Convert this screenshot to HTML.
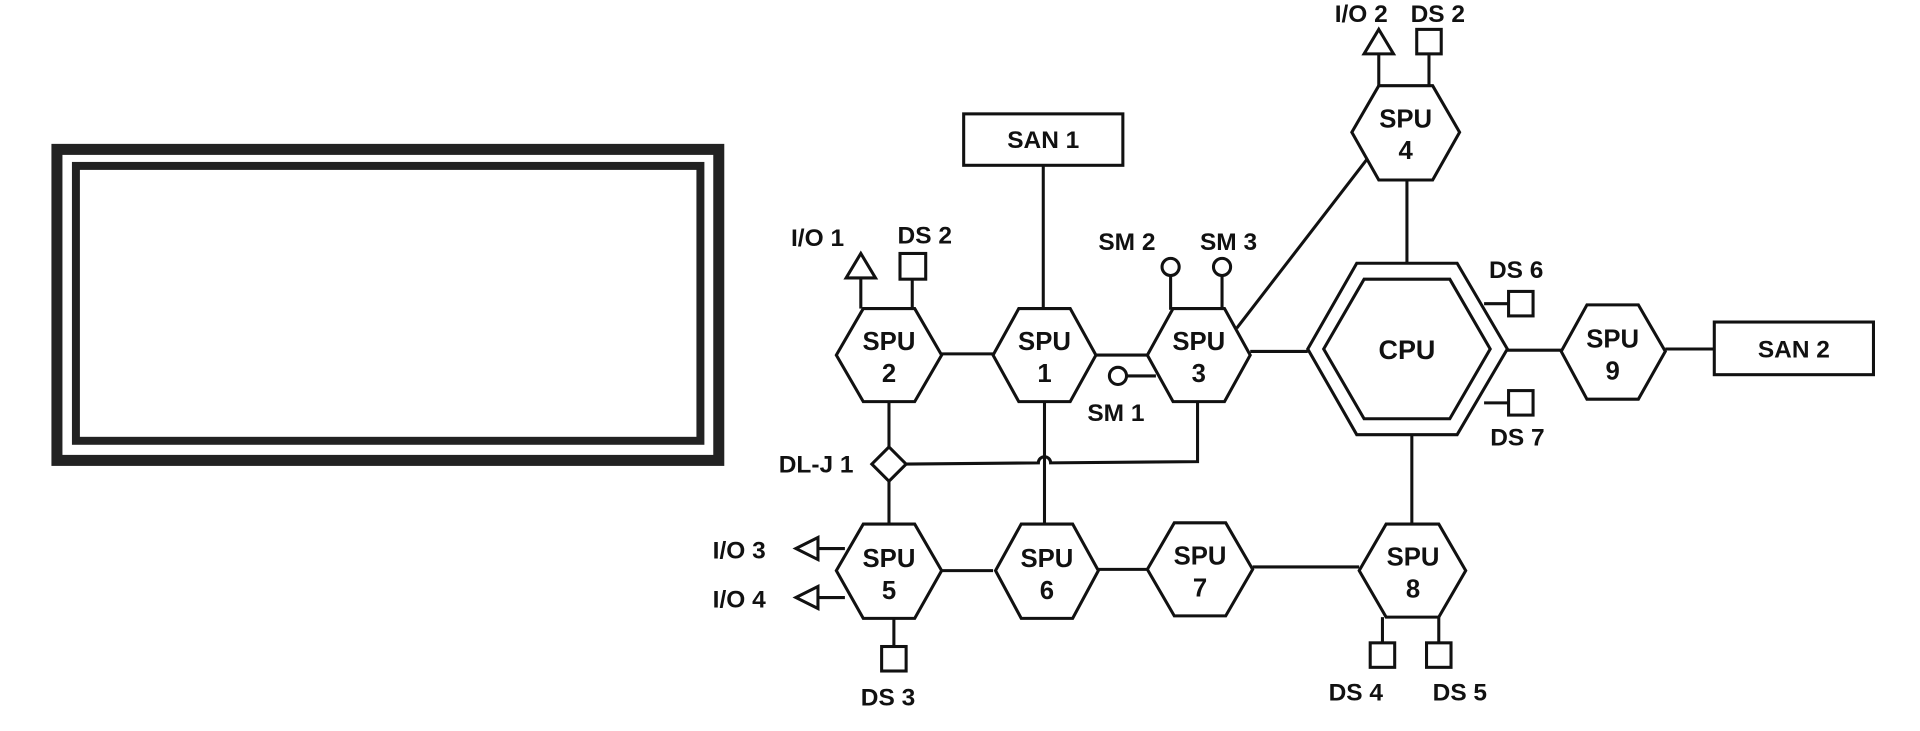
<!DOCTYPE html>
<html><head><meta charset="utf-8"><style>
html,body{margin:0;padding:0;background:#fff;}
svg{display:block;}
text{font-family:"Liberation Sans",sans-serif;font-weight:bold;fill:#111;font-size:20px;}
.n{text-anchor:middle;font-size:21px;}
</style></head><body>
<svg width="1920" height="731" viewBox="0 0 1568 597" preserveAspectRatio="none" xmlns="http://www.w3.org/2000/svg">
<g fill="none" stroke="#222">
<rect x="46.5" y="122" width="540.5" height="254" stroke-width="9"/>
<rect x="62" y="135.5" width="510" height="224.5" stroke-width="6.5"/>
</g>
<g fill="none" stroke="#111" stroke-width="2.5">
<line x1="769" y1="289" x2="811" y2="289"/>
<line x1="895" y1="290" x2="937" y2="290"/>
<line x1="1021" y1="287" x2="1068" y2="287"/>
<line x1="1231" y1="286" x2="1275" y2="286"/>
<line x1="1360" y1="285" x2="1400" y2="285"/>
<line x1="852" y1="135" x2="852" y2="252"/>
<line x1="1149" y1="147" x2="1149" y2="215"/>
<line x1="1010" y1="268" x2="1118" y2="128"/>
<line x1="1153" y1="355" x2="1153" y2="428"/>
<line x1="769" y1="466" x2="811" y2="466"/>
<line x1="897" y1="465" x2="937" y2="465"/>
<line x1="1023" y1="463" x2="1110" y2="463"/>
<line x1="726" y1="328" x2="726" y2="365"/>
<line x1="726" y1="393" x2="726" y2="428"/>
<path d="M740 379 L848 378 A5 5 0 0 1 858 378 L978 377 L978 328"/>
<line x1="853" y1="328" x2="853" y2="428"/>
<line x1="920" y1="307" x2="944" y2="307"/>
<line x1="956" y1="225" x2="956" y2="253"/>
<line x1="998" y1="225" x2="998" y2="253"/>
<line x1="703" y1="227" x2="703" y2="252"/>
<line x1="745" y1="229" x2="745" y2="252"/>
<line x1="1126" y1="44" x2="1126" y2="70"/>
<line x1="1167" y1="45" x2="1167" y2="70"/>
<line x1="1212" y1="248" x2="1232" y2="248"/>
<line x1="1212" y1="329" x2="1232" y2="329"/>
<line x1="668" y1="448" x2="690" y2="448"/>
<line x1="668" y1="488" x2="690" y2="488"/>
<line x1="730" y1="505" x2="730" y2="528"/>
<line x1="1129" y1="504" x2="1129" y2="525"/>
<line x1="1175" y1="504" x2="1175" y2="525"/>
<polygon points="705,252 747,252 769,290 747,328 705,328 683,290" fill="#fff"/>
<polygon points="832,252 874,252 895,290 874,328 832,328 811,290" fill="#fff"/>
<polygon points="958,252 1000,252 1021,290 1000,328 958,328 937,290" fill="#fff"/>
<polygon points="1126,70 1170,70 1192,108 1170,147 1126,147 1104,108" fill="#fff"/>
<polygon points="1296,249 1338,249 1360,287 1338,326 1296,326 1275,287" fill="#fff"/>
<polygon points="705,428 747,428 769,466 747,505 705,505 683,466" fill="#fff"/>
<polygon points="834,428 876,428 897,466 876,505 834,505 813,466" fill="#fff"/>
<polygon points="959,427 1001,427 1023,465 1001,503 959,503 937,465" fill="#fff"/>
<polygon points="1132,428 1175,428 1197,466 1175,504 1132,504 1110,466" fill="#fff"/>
<polygon points="1108,215 1190,215 1231,285 1190,355 1108,355 1068,285" fill="#fff"/>
<polygon points="1114,228 1184,228 1217,285 1184,342 1114,342 1081,285"/>
<rect x="787" y="93" width="130" height="42" fill="#fff"/>
<rect x="1400" y="263" width="130" height="43" fill="#fff"/>
<polygon points="726,365 740,379 726,393 712,379" fill="#fff"/>
<circle cx="913" cy="307" r="7" fill="#fff"/>
<circle cx="956" cy="218" r="7" fill="#fff"/>
<circle cx="998" cy="218" r="7" fill="#fff"/>
<polygon points="703,207 715,227 691,227" fill="#fff"/>
<rect x="735" y="207" width="21" height="21" fill="#fff"/>
<polygon points="1126,24 1138,44 1114,44" fill="#fff"/>
<rect x="1157" y="24" width="20" height="20" fill="#fff"/>
<rect x="1232" y="238" width="20" height="20" fill="#fff"/>
<rect x="1232" y="319" width="20" height="20" fill="#fff"/>
<polygon points="650,448 668,439 668,457" fill="#fff"/>
<polygon points="650,488 668,479 668,497" fill="#fff"/>
<rect x="720" y="528" width="20" height="20" fill="#fff"/>
<rect x="1119" y="525" width="20" height="20" fill="#fff"/>
<rect x="1165" y="525" width="20" height="20" fill="#fff"/>
</g>
<text class="n" x="726" y="286">SPU</text><text class="n" x="726" y="312">2</text>
<text class="n" x="853" y="286">SPU</text><text class="n" x="853" y="312">1</text>
<text class="n" x="979" y="286">SPU</text><text class="n" x="979" y="312">3</text>
<text class="n" x="1148" y="104">SPU</text><text class="n" x="1148" y="130">4</text>
<text class="n" x="1317" y="284">SPU</text><text class="n" x="1317" y="310">9</text>
<text class="n" x="726" y="463">SPU</text><text class="n" x="726" y="489">5</text>
<text class="n" x="855" y="463">SPU</text><text class="n" x="855" y="489">6</text>
<text class="n" x="980" y="461">SPU</text><text class="n" x="980" y="487">7</text>
<text class="n" x="1154" y="462">SPU</text><text class="n" x="1154" y="488">8</text>
<text class="n" x="1149" y="293" style="font-size:22px">CPU</text>
<text class="n" x="852" y="121" style="font-size:20px">SAN 1</text>
<text class="n" x="1465" y="292" style="font-size:20px">SAN 2</text>
<text x="646" y="201">I/O 1</text>
<text x="733" y="199">DS 2</text>
<text x="897" y="204">SM 2</text>
<text x="980" y="204">SM 3</text>
<text x="888" y="344">SM 1</text>
<text x="636" y="386">DL-J 1</text>
<text x="582" y="456">I/O 3</text>
<text x="582" y="496">I/O 4</text>
<text x="703" y="576">DS 3</text>
<text x="1085" y="572">DS 4</text>
<text x="1170" y="572">DS 5</text>
<text x="1216" y="227">DS 6</text>
<text x="1217" y="364">DS 7</text>
<text x="1090" y="18">I/O 2</text>
<text x="1152" y="18">DS 2</text>
</svg>
</body></html>
